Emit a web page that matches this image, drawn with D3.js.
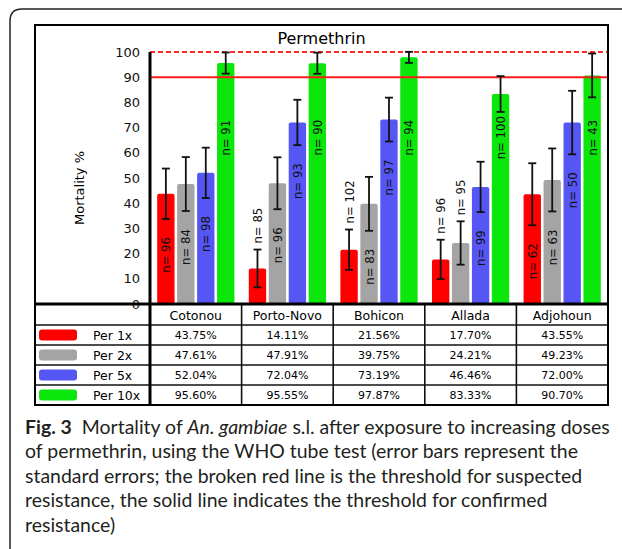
<!DOCTYPE html>
<html>
<head>
<meta charset="utf-8">
<script src="https://cdn.jsdelivr.net/npm/d3@7"></script>
<style>
  body { margin: 0; background: #fff; }
  svg { display: block; }
</style>
</head>
<body>
<svg id="chart" width="622" height="549"></svg>
<script>
// Data
const categories = ["Cotonou", "Porto-Novo", "Bohicon", "Allada", "Adjohoun"];
const doses = ["Per 1x", "Per 2x", "Per 5x", "Per 10x"];

const per1x  = [43.75, 14.11, 21.56, 17.70, 43.55];
const per2x  = [47.61, 47.91, 39.75, 24.21, 49.23];
const per5x  = [52.04, 72.04, 73.19, 46.46, 72.00];
const per10x = [95.60, 95.55, 97.87, 83.33, 90.70];

// standard errors (estimated from the whiskers)
const se1x  = [10.0, 7.5, 8.0, 7.8, 12.3];
const se2x  = [10.7, 10.3, 10.7, 8.6, 12.5];
const se5x  = [10.0, 9.0, 8.7, 10.0, 12.6];
const se10x = [4.2, 4.2, 2.2, 7.1, 8.7];

// mosquitoes tested
const n1x  = [96, 85, 102, 96, 62];
const n2x  = [84, 96, 83, 95, 63];
const n5x  = [98, 93, 97, 99, 50];
const n10x = [91, 90, 94, 100, 43];

const yTicks = [0, 10, 20, 30, 40, 50, 60, 70, 80, 90, 100];
const suspectedThreshold = 100;
const confirmedThreshold = 90;

const seriesValues = [per1x, per2x, per5x, per10x];
const seriesSE = [se1x, se2x, se5x, se10x];
const seriesN = [n1x, n2x, n5x, n10x];
const colors = ["#ff0000", "#a4a4a4", "#5656f5", "#0be60b"];

const FONT = "'DejaVu Sans', 'Liberation Sans', sans-serif";
const NFONT = "'DejaVu Sans Condensed', 'Liberation Sans Narrow', 'Liberation Sans', sans-serif";

const BOX = { left: 35, top: 25, right: 608, bottom: 405 };
const PLOT = { left: 150, right: 608, top: 52, bottom: 304 };
const HEADER_H = 21, ROW_H = 20;

const svg = d3.select("#chart");

// outer figure frame (rounded top-left corner)
svg.append("path")
    .attr("d", "M10,549 V21 Q10,9 22,9 H622")
    .attr("fill", "none")
    .attr("stroke", "#222")
    .attr("stroke-width", 1.5);

// scales
const y = d3.scaleLinear().domain([0, 100]).range([PLOT.bottom, PLOT.top]);
const x0 = d3.scaleBand().domain(categories).range([PLOT.left, PLOT.right]);
const x1 = d3.scaleBand().domain(doses).range([0, x0.bandwidth()])
    .paddingInner(0.13).paddingOuter(0.36);

// title
svg.append("text")
    .attr("x", (BOX.left + BOX.right) / 2)
    .attr("y", 44)
    .attr("text-anchor", "middle")
    .attr("font-family", FONT)
    .attr("font-size", 16)
    .text("Permethrin");

// y axis
const yAxis = svg.append("g")
    .attr("transform", `translate(${PLOT.left},0)`)
    .call(d3.axisLeft(y).tickValues(yTicks).tickSize(0).tickPadding(10));
yAxis.select(".domain").remove();
yAxis.selectAll("text")
    .attr("font-family", FONT)
    .attr("font-size", 13)
    .attr("fill", "#111");

svg.append("text")
    .attr("transform", "translate(79,188) rotate(-90)")
    .attr("text-anchor", "middle")
    .attr("dominant-baseline", "central")
    .attr("font-family", FONT)
    .attr("font-size", 13)
    .text("Mortality %");

// bars
const bars = categories.flatMap((cat, j) => doses.map((dose, i) => ({
    cat, dose, i,
    value: seriesValues[i][j],
    se: seriesSE[i][j],
    n: seriesN[i][j]
})));

const cx = d => x0(d.cat) + x1(d.dose) + x1.bandwidth() / 2;

svg.append("g").selectAll("rect")
    .data(bars)
    .join("rect")
    .attr("x", d => x0(d.cat) + x1(d.dose))
    .attr("y", d => y(d.value))
    .attr("width", x1.bandwidth())
    .attr("height", d => y(0) - y(d.value))
    .attr("rx", 2)
    .attr("fill", d => colors[d.i]);

// threshold lines
svg.append("line")
    .attr("x1", PLOT.left).attr("x2", PLOT.right)
    .attr("y1", y(suspectedThreshold)).attr("y2", y(suspectedThreshold))
    .attr("stroke", "#ff2a2a")
    .attr("stroke-width", 1.8)
    .attr("stroke-dasharray", "5,3");

svg.append("line")
    .attr("x1", PLOT.left).attr("x2", PLOT.right)
    .attr("y1", y(confirmedThreshold)).attr("y2", y(confirmedThreshold))
    .attr("stroke", "#ff1a1a")
    .attr("stroke-width", 2);

// error bars
const err = svg.append("g")
    .attr("stroke", "#111")
    .attr("stroke-width", 1.8)
    .selectAll("g")
    .data(bars)
    .join("g");

err.append("line")
    .attr("x1", cx).attr("x2", cx)
    .attr("y1", d => y(d.value - d.se))
    .attr("y2", d => y(d.value + d.se));
err.append("line")
    .attr("x1", d => cx(d) - 4).attr("x2", d => cx(d) + 4)
    .attr("y1", d => y(d.value + d.se)).attr("y2", d => y(d.value + d.se));
err.append("line")
    .attr("x1", d => cx(d) - 4).attr("x2", d => cx(d) + 4)
    .attr("y1", d => y(d.value - d.se)).attr("y2", d => y(d.value - d.se));

// n= labels, rotated; inside the bar under the whisker when it fits, otherwise above
const nLabels = svg.append("g").selectAll("text")
    .data(bars)
    .join("text")
    .attr("text-anchor", "middle")
    .attr("dominant-baseline", "central")
    .attr("font-family", NFONT)
    .attr("font-size", 13)
    .attr("fill", "#111")
    .text(d => `n= ${d.n}`);

nLabels.each(function(d) {
    const len = this.getComputedTextLength();
    const base = y(0), lower = y(d.value - d.se), upper = y(d.value + d.se);
    let cy;
    if (d.value >= 80) {
        cy = y(66);
    } else if (base - lower >= len + 10) {
        cy = Math.min(lower + 36, base - len / 2 - 4);
    } else {
        cy = upper - 6 - len / 2;
    }
    d3.select(this).attr("transform", `translate(${cx(d)},${cy}) rotate(-90)`);
});

// data table under the plot
const rowY = i => PLOT.bottom + HEADER_H + i * ROW_H;
const table = svg.append("g");

categories.forEach(cat => {
    table.append("text")
        .attr("x", x0(cat) + x0.bandwidth() / 2)
        .attr("y", PLOT.bottom + HEADER_H / 2 + 1)
        .attr("text-anchor", "middle")
        .attr("dominant-baseline", "central")
        .attr("font-family", FONT)
        .attr("font-size", 12.5)
        .text(cat);
});

doses.forEach((dose, i) => {
    const cyRow = rowY(i) + ROW_H / 2;
    table.append("rect")
        .attr("x", 39).attr("y", cyRow - 5.5)
        .attr("width", 38).attr("height", 11)
        .attr("rx", 3)
        .attr("fill", colors[i]);
    table.append("text")
        .attr("x", 93).attr("y", cyRow + 0.5)
        .attr("dominant-baseline", "central")
        .attr("font-family", FONT)
        .attr("font-size", 12.5)
        .text(dose);
    categories.forEach((cat, j) => {
        table.append("text")
            .attr("x", x0(cat) + x0.bandwidth() / 2)
            .attr("y", cyRow + 0.5)
            .attr("text-anchor", "middle")
            .attr("dominant-baseline", "central")
            .attr("font-family", FONT)
            .attr("font-size", 11)
            .text(seriesValues[i][j].toFixed(2) + "%");
    });
});

// table grid
const grid = table.append("g").attr("stroke", "#111").attr("stroke-width", 1.6);
doses.forEach((dose, i) => {
    grid.append("line")
        .attr("x1", BOX.left).attr("x2", BOX.right)
        .attr("y1", rowY(i)).attr("y2", rowY(i));
});
categories.slice(1).forEach(cat => {
    grid.append("line")
        .attr("x1", x0(cat)).attr("x2", x0(cat))
        .attr("y1", PLOT.bottom).attr("y2", BOX.bottom);
});

// thick plot frame: y axis + baseline
svg.append("line")
    .attr("x1", PLOT.left).attr("x2", PLOT.left)
    .attr("y1", PLOT.top).attr("y2", BOX.bottom)
    .attr("stroke", "#000").attr("stroke-width", 3);
svg.append("line")
    .attr("x1", BOX.left).attr("x2", BOX.right)
    .attr("y1", PLOT.bottom).attr("y2", PLOT.bottom)
    .attr("stroke", "#000").attr("stroke-width", 3);

// chart box
svg.append("rect")
    .attr("x", BOX.left).attr("y", BOX.top)
    .attr("width", BOX.right - BOX.left)
    .attr("height", BOX.bottom - BOX.top)
    .attr("fill", "none")
    .attr("stroke", "#000")
    .attr("stroke-width", 2);

// caption, one text per line; font size fitted so the first line spans the figure width
const captionLines = [
    [["Fig. 3", "bold"], ["  Mortality of ", ""], ["An. gambiae", "italic"], [" s.l. after exposure to increasing doses", ""]],
    [["of permethrin, using the WHO tube test (error bars represent the", ""]],
    [["standard errors; the broken red line is the threshold for suspected", ""]],
    [["resistance, the solid line indicates the threshold for confirmed", ""]],
    [["resistance)", ""]]
];

const captionG = svg.append("g")
    .attr("font-family", "Lato, 'Open Sans', sans-serif")
    .attr("font-size", 18)
    .attr("fill", "#231f20");

const captionTexts = captionLines.map((parts, k) => {
    const t = captionG.append("text")
        .attr("x", 25)
        .attr("y", 434 + k * 24.4)
        .style("white-space", "pre");
    parts.forEach(([txt, style]) => {
        const s = t.append("tspan").text(txt);
        if (style === "bold") s.attr("font-weight", "bold");
        if (style === "italic") s.attr("font-style", "italic");
    });
    return t;
});

const firstWidth = captionTexts[0].node().getComputedTextLength();
captionG.attr("font-size", 18 * 585 / firstWidth);
</script>
</body>
</html>
